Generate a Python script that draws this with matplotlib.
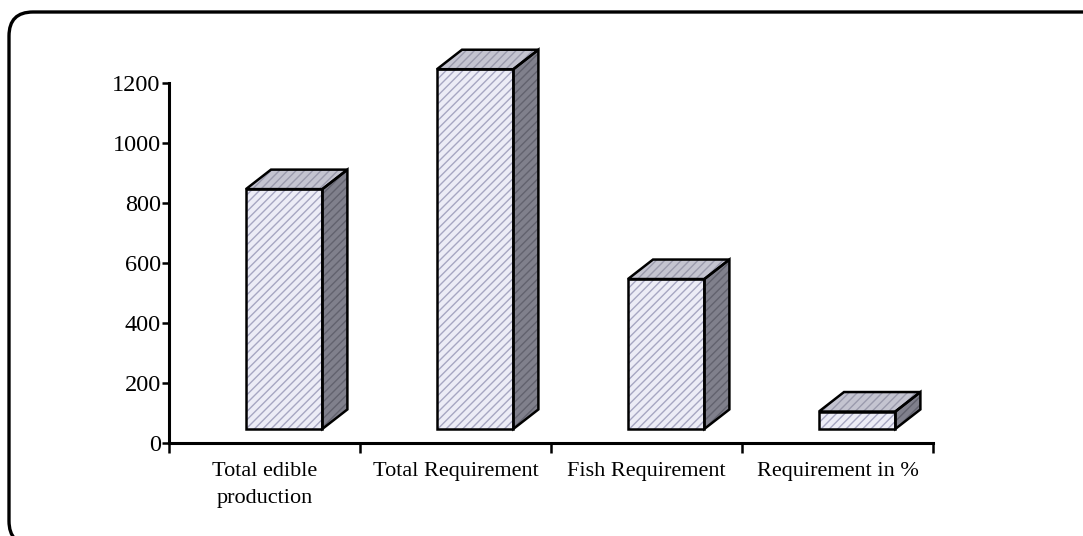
import matplotlib
matplotlib.use("Agg")
import matplotlib.pyplot as plt
from matplotlib.patches import Polygon, FancyBboxPatch
from matplotlib.transforms import IdentityTransform

# data
categories = ["Total edible\nproduction", "Total Requirement",
              "Fish Requirement", "Requirement in %"]
values = [800, 1200, 500, 58]
y_ticks = [0, 200, 400, 600, 800, 1000, 1200]

# block geometry (data units)
base = 47          # columns stand a little above the floor line
shift = 0.103      # front face offset from category centre
width = 0.40
depth_x = 0.131
depth_y = 65

front_col, front_hatch = "#ececf6", "#a6a6c2"
top_col, top_hatch = "#c4c4d0", "#9a9aac"
side_col, side_hatch = "#80808c", "#62626e"

plt.rcParams["font.family"] = ["Liberation Serif", "DejaVu Serif"]
plt.rcParams["hatch.linewidth"] = 1.0

fig = plt.figure(figsize=(10.83, 5.36), dpi=100)
ax = fig.add_axes([169 / 1083, 93 / 536, 764 / 1083, 359.7 / 536])

centers = [i + 0.5 for i in range(len(categories))]
lefts = [c + shift for c in centers]

# front faces: hatched fill, then black outline
ax.bar(lefts, values, width=width, bottom=base, color=front_col,
       edgecolor=front_hatch, hatch="////", linewidth=0, zorder=2,
       clip_on=False)
ax.bar(lefts, values, width=width, bottom=base, fill=False,
       edgecolor="black", linewidth=1.8, zorder=4, clip_on=False)

for c, v in zip(lefts, values):
    xl, xr = c - width / 2, c + width / 2
    top = base + v
    top_face = [(xl, top), (xr, top), (xr + depth_x, top + depth_y),
                (xl + depth_x, top + depth_y)]
    side_face = [(xr, base), (xr + depth_x, base + depth_y),
                 (xr + depth_x, top + depth_y), (xr, top)]
    for pts, fc, hc in [(top_face, top_col, top_hatch),
                        (side_face, side_col, side_hatch)]:
        ax.add_patch(Polygon(pts, closed=True, facecolor=fc, edgecolor=hc,
                             hatch="////", linewidth=0, zorder=2,
                             clip_on=False))
        ax.add_patch(Polygon(pts, closed=True, fill=False, edgecolor="black",
                             linewidth=1.8, zorder=3, clip_on=False))

ax.set_xlim(0, 4)
ax.set_ylim(0, 1200)
ax.set_yticks(y_ticks)
ax.set_xticks(range(5))
ax.set_xticklabels([])
ax.set_xticks(centers, minor=True)
ax.set_xticklabels(categories, minor=True, fontsize=16, linespacing=1.55)
ax.tick_params(axis="x", which="minor", length=0, pad=14)
ax.tick_params(axis="x", which="major", length=7, width=1.8, direction="out")
ax.tick_params(axis="y", length=5, width=1.8, direction="out", pad=1,
               labelsize=17.5)

for s in ["top", "right"]:
    ax.spines[s].set_visible(False)
for s in ["left", "bottom"]:
    ax.spines[s].set_linewidth(2.2)

# rounded frame around the chart area, running off the lower right
frame = FancyBboxPatch((9, 536 - 545), 1100, 533,
                       boxstyle="round,pad=0,rounding_size=24",
                       transform=IdentityTransform(), fill=False,
                       edgecolor="black", linewidth=2.4)
fig.patches.append(frame)

fig.savefig("out.png", dpi=100)
